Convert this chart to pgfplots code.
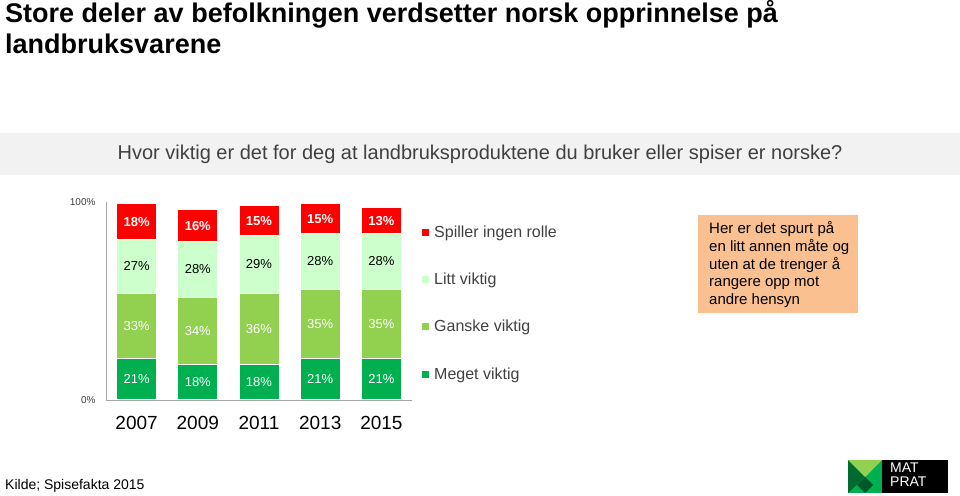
\documentclass[border=0pt]{standalone}
\usepackage{fontspec}
\setmainfont{Liberation Sans}
\usepackage{pgfplots}
\pgfplotsset{compat=1.18}
\definecolor{cred}{HTML}{FF0000}
\definecolor{clight}{HTML}{CCFFCC}
\definecolor{cmed}{HTML}{92D050}
\definecolor{cdark}{HTML}{00B050}
\definecolor{banner}{HTML}{F2F2F2}
\definecolor{txtgray}{HTML}{404040}
\definecolor{orangebox}{HTML}{FAC090}
\definecolor{axgray}{HTML}{A6A6A6}
\begin{document}
\begin{tikzpicture}[x=1pt,y=1pt]
\path[use as bounding box] (0pt,0pt) rectangle (960pt,495pt);
% title
\node[anchor=base west, font=\fontsize{27}{31}\selectfont\bfseries, inner sep=0pt] at (5pt,472pt)
  {Store deler av befolkningen verdsetter norsk opprinnelse på};
\node[anchor=base west, font=\fontsize{27}{31}\selectfont\bfseries, inner sep=0pt] at (5pt,441pt)
  {landbruksvarene};
% banner
\fill[banner] (0pt,320pt) rectangle (960pt,362pt);
\node[font=\fontsize{20}{22}\selectfont, text=txtgray] at (480pt,341pt)
  {Hvor viktig er det for deg at landbruksproduktene du bruker eller spiser er norske?};
% orange note
\fill[orangebox] (698pt,182pt) rectangle (858pt,280pt);
\node[anchor=north west, align=left, font=\fontsize{15}{17.9}\selectfont, inner sep=0pt] at (709pt,274pt)
  {Her er det spurt på\\en litt annen måte og\\uten at de trenger å\\rangere opp mot\\andre hensyn};
% source
\node[anchor=base west, font=\fontsize{14}{16}\selectfont, inner sep=0pt] at (5pt,6pt) {Kilde; Spisefakta 2015};
% logo
\fill[cdark] (848pt,2pt) rectangle (882pt,35pt);
\fill[cdark!60!black] (848pt,2pt) -- (865pt,18pt) -- (848pt,35pt) -- cycle;
\fill[cmed] (848pt,35pt) -- (865pt,18pt) -- (882pt,35pt) -- cycle;
\fill[cdark!50!black] (865pt,2pt) -- (873pt,10pt) -- (865pt,18pt) -- (857pt,10pt) -- cycle;
\fill[black] (882pt,2pt) rectangle (948pt,35pt);
\node[anchor=north west, align=left, text=white, font=\fontsize{14}{13.5}\selectfont, inner sep=0pt] at (890pt,32pt) {MAT\\PRAT};
\begin{axis}[
  at={(106pt,95pt)}, anchor=south west,
  scale only axis, width=306pt, height=198pt,
  ybar stacked, bar width=40pt,
  xmin=-0.5, xmax=4.5, ymin=0, ymax=100,
  axis x line*=bottom, axis y line*=left,
  axis line style={draw=axgray, line width=0.8pt, -},
  xtick={0,1,2,3,4}, xticklabels={2007,2009,2011,2013,2015},
  x tick label style={font=\fontsize{19}{22}\selectfont, yshift=-13pt},
  ytick={0,100}, yticklabels={0\%,100\%},
  y tick label style={font=\fontsize{10}{12}\selectfont, text=txtgray, xshift=-7pt},
  major tick length=0pt,
  /pgf/number format/assume math mode=true,
  nodes near coords={\pgfmathprintnumber{\pgfplotspointmeta}\%},
  every node near coord/.append style={anchor=center, font=\fontsize{13}{15}\selectfont},
  legend style={at={(1,1)}, anchor=north west, xshift=6pt, yshift=-20pt, draw=none, fill=none,
    font=\fontsize{16}{19}\selectfont, text=txtgray, row sep=30pt, cells={anchor=west}},
  legend image code/.code={\fill[#1,draw=none] (0pt,-3.5pt) rectangle (7pt,3.5pt); \path (0pt,0pt) (10pt,0pt);},
  reverse legend,
]
\addplot[fill=cdark, draw=white, line width=1pt, nodes near coords style={text=white}] coordinates {(0,21) (1,18) (2,18) (3,21) (4,21)};
\addplot[fill=cmed, draw=white, line width=1pt, nodes near coords style={text=white}] coordinates {(0,33) (1,34) (2,36) (3,35) (4,35)};
\addplot[fill=clight, draw=white, line width=1pt, nodes near coords style={text=black}] coordinates {(0,27) (1,28) (2,29) (3,28) (4,28)};
\addplot[fill=cred, draw=white, line width=1pt, nodes near coords style={text=white, font=\fontsize{13}{15}\selectfont\bfseries}] coordinates {(0,18) (1,16) (2,15) (3,15) (4,13)};
\legend{Meget viktig, Ganske viktig, Litt viktig, Spiller ingen rolle}
\end{axis}
\end{tikzpicture}
\end{document}
